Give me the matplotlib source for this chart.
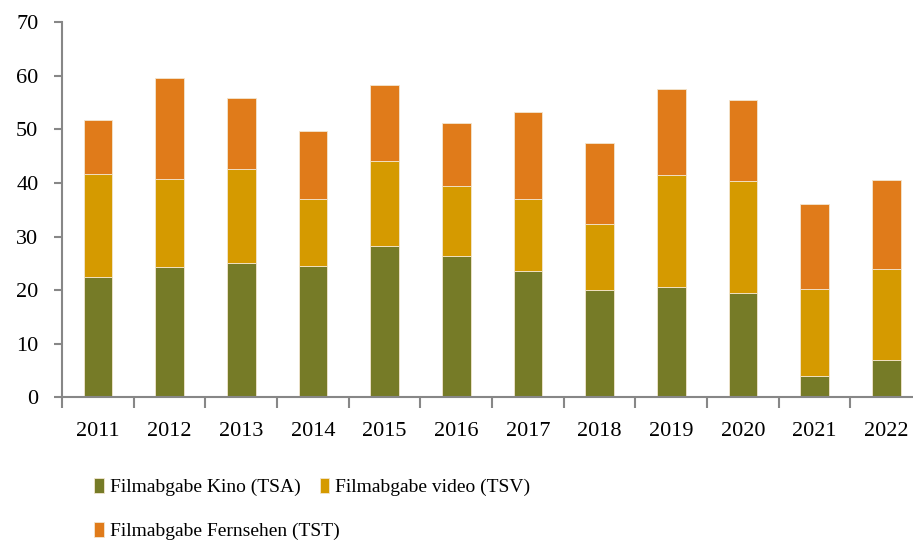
import matplotlib
matplotlib.use("Agg")
import matplotlib.pyplot as plt
import numpy as np

years = ["2011", "2012", "2013", "2014", "2015", "2016",
         "2017", "2018", "2019", "2020", "2021", "2022"]
kino = [22.4, 24.3, 25.1, 24.5, 28.3, 26.3, 23.5, 20.0, 20.5, 19.5, 3.9, 6.9]
video_top = [41.6, 40.8, 42.6, 37.0, 44.2, 39.4, 37.0, 32.3, 41.5, 40.3, 20.2, 23.9]
total = [51.8, 59.6, 55.9, 49.8, 58.3, 51.2, 53.2, 47.4, 57.6, 55.5, 36.0, 40.5]

video = [round(v - k, 1) for v, k in zip(video_top, kino)]
fernsehen = [round(t - v, 1) for t, v in zip(total, video_top)]

labels = ["Filmabgabe Kino (TSA)", "Filmabgabe video (TSV)",
          "Filmabgabe Fernsehen (TST)"]
colors = ["#767B27", "#D59A00", "#E07B1A"]

plt.rcParams["font.family"] = ["Liberation Serif", "DejaVu Serif"]
fs = 16

fig = plt.figure(figsize=(9.13, 5.44), dpi=100)
ax = fig.add_axes([62 / 913, (544 - 397.3) / 544, 860 / 913, 375 / 544])

x = np.arange(len(years))
w = 0.40
bottom = np.zeros(len(years))
bars = []
for vals, col, lab in zip([kino, video, fernsehen], colors, labels):
    bars.append(ax.bar(x, vals, w, bottom=bottom, color=col, label=lab,
                       edgecolor="#f3e6cf", linewidth=0.6))
    bottom += np.array(vals)

ax.set_xlim(-0.5, len(years) - 0.5)
ax.set_ylim(0, 70)
ax.set_yticks(range(0, 71, 10))

axis_col = "#878787"
for s in ["top", "right"]:
    ax.spines[s].set_visible(False)
for s in ["left", "bottom"]:
    ax.spines[s].set_color(axis_col)
    ax.spines[s].set_linewidth(1.5)

# category ticks sit on the boundaries between bars, labels at the centres
ax.set_xticks(np.arange(-0.5, len(years) + 0.5, 1.0))
ax.set_xticklabels([])
ax.set_xticks(x, minor=True)
ax.set_xticklabels(years, minor=True, fontsize=fs)
ax.tick_params(axis="x", which="major", direction="out", length=8,
               width=1.5, color=axis_col)
ax.tick_params(axis="x", which="minor", length=0, pad=18)
ax.tick_params(axis="y", direction="out", length=6, width=1.5,
               color=axis_col, labelsize=fs, pad=11)

# legend: Kino and video on the first row, Fernsehen on the second
leg_kw = dict(loc="center left", frameon=False, fontsize=14,
              handlelength=0.5, handleheight=0.85, handletextpad=0.3,
              columnspacing=1.0, borderaxespad=0, borderpad=0)
fig.legend(bars[:2], labels[:2], ncol=2,
           bbox_to_anchor=(94 / 913, 1 - 487 / 544), **leg_kw)
fig.legend(bars[2:], labels[2:], ncol=1,
           bbox_to_anchor=(94 / 913, 1 - 531 / 544), **leg_kw)

fig.savefig("out.png", dpi=100)
